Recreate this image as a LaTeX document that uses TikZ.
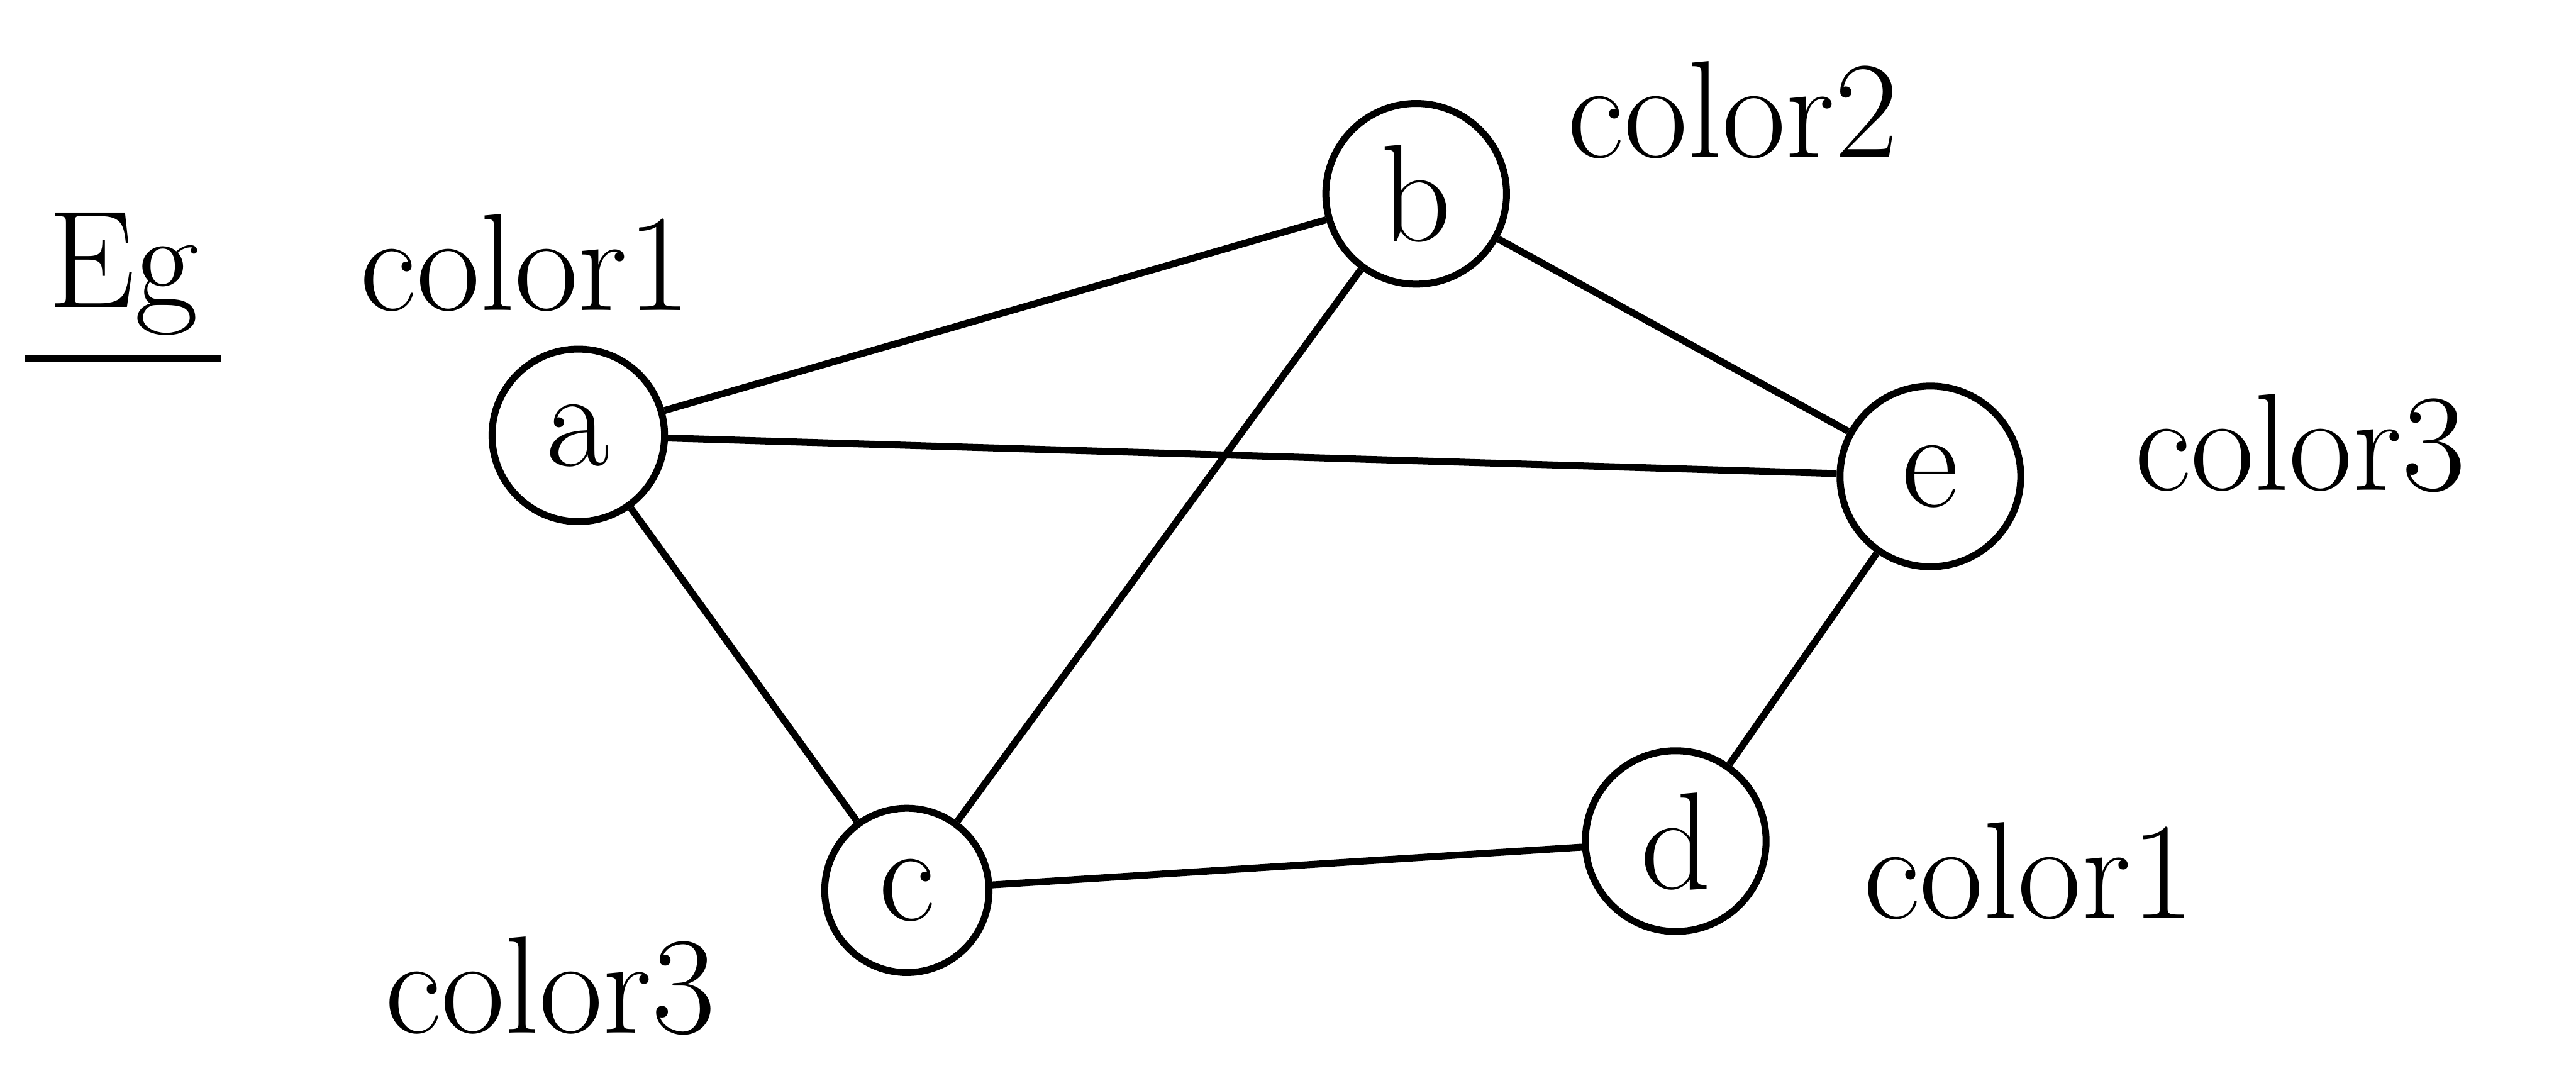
\documentclass[tikz,border=0pt]{standalone}
\usepackage{amsmath,amssymb}
\usepackage{tikz}
\usetikzlibrary{arrows.meta, positioning}

\begin{document}
\begin{tikzpicture}[every node/.style={font=\fontsize{24}{28}\selectfont}, line width=1.2pt]
\useasboundingbox (0,0) rectangle (15.68,6.62);
\node (eg) at (0.75,4.95) {Eg};
\draw (eg.south west) -- (eg.south east);
\node[draw,shape=circle,minimum size=1.05cm,inner sep=0pt] (a) at (3.52,3.97) {a};
\node[draw,shape=circle,minimum size=1.1cm,inner sep=0pt] (b) at (8.62,5.44) {b};
\node[draw,shape=circle,minimum size=1.1cm,inner sep=0pt] (e) at (11.75,3.72) {e};
\node[draw,shape=circle,minimum size=1.0cm,inner sep=0pt] (c) at (5.52,1.20) {c};
\node[draw,shape=circle,minimum size=1.1cm,inner sep=0pt] (d) at (10.20,1.50) {d};
\node (la) at (3.2,5.02) {color1};
\node (lb) at (10.55,5.95) {color2};
\node (le) at (14.0,3.92) {color3};
\node (ld) at (12.35,1.32) {color1};
\node (lc) at (3.35,0.62) {color3};
\draw (a)--(b)--(c)--(a);
\draw (a)--(e)--(b);
\draw (e)--(d)--(c);
\end{tikzpicture}
\end{document}
